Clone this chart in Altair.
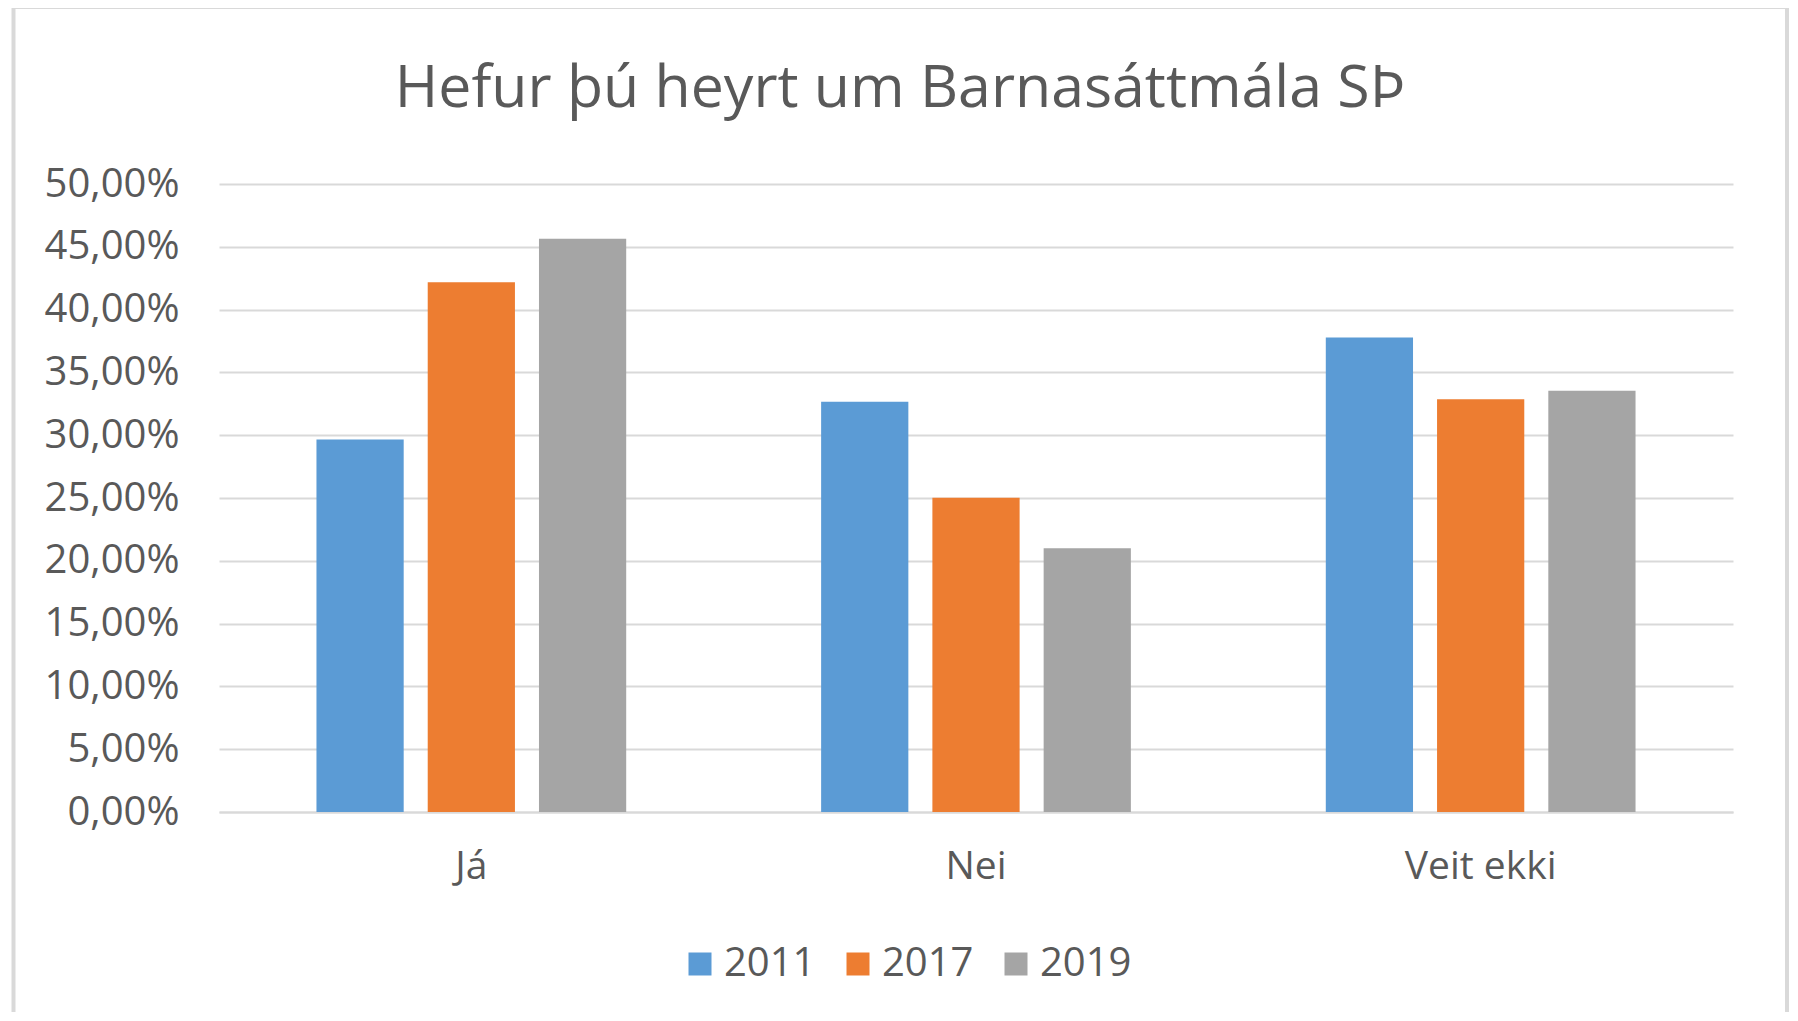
import altair as alt
import pandas as pd

categories = ["Já", "Nei", "Veit ekki"]
years = ["2011", "2017", "2019"]
values_2011 = [0.2965, 0.3266, 0.3778]
values_2017 = [0.4218, 0.2502, 0.3287]
values_2019 = [0.4564, 0.2100, 0.3354]
colors = ["#5B9BD5", "#ED7D31", "#A5A5A5"]
y_ticks = [i * 0.05 for i in range(11)]

rows = []
for yr, vals in zip(years, [values_2011, values_2017, values_2019]):
    for c, v in zip(categories, vals):
        rows.append({"Svar": c, "Ár": yr, "Hlutfall": v})
df = pd.DataFrame(rows)

FONT = "Open Sans"
TXT = "#595959"
W, H = 1514, 628

bars = alt.Chart(df).mark_bar().encode(
    x=alt.X("Svar:N", sort=categories, title=None,
            scale=alt.Scale(paddingInner=0, paddingOuter=0),
            axis=alt.Axis(labelAngle=0, ticks=False, domain=True,
                          domainColor="#D9D9D9", domainWidth=2,
                          labelFontSize=39, labelColor=TXT, labelFont=FONT,
                          labelPadding=35, grid=False)),
    xOffset=alt.XOffset("Ár:N", sort=years,
                        scale=alt.Scale(paddingInner=0.216, paddingOuter=0.876)),
    y=alt.Y("Hlutfall:Q", title=None,
            scale=alt.Scale(domain=[0, 0.5], nice=False),
            axis=alt.Axis(values=y_ticks, domain=False, ticks=False,
                          gridColor="#D9D9D9", gridWidth=2,
                          labelExpr="replace(format(datum.value, '.2%'), '.', ',')",
                          labelFontSize=40, labelColor=TXT, labelFont=FONT,
                          labelPadding=40)),
    color=alt.Color("Ár:N", sort=years,
                    scale=alt.Scale(domain=years, range=colors),
                    legend=alt.Legend(title=None, orient="none", direction="horizontal",
                                      legendX=461, legendY=760,
                                      symbolType="square", symbolSize=529,
                                      symbolStrokeWidth=0, symbolOpacity=1,
                                      labelFontSize=40, labelColor=TXT, labelFont=FONT,
                                      labelOffset=4, columnPadding=22)),
)

frame = alt.Chart(pd.DataFrame({"f": [0]})).mark_rect(
    fill=None, stroke="#D9D9D9", strokeWidth=4
).encode(
    x=alt.value(-205.5), x2=alt.value(1568),
    y=alt.value(-177), y2=alt.value(860),
)

chart = alt.layer(frame, bars).properties(
    width=W, height=H,
    background="white",
    title=alt.TitleParams("Hefur þú heyrt um Barnasáttmála SÞ",
                          fontSize=59, font=FONT, fontWeight="normal",
                          color=TXT, anchor="middle", dx=-76,
                          baseline="alphabetic", offset=-161),
    autosize=alt.AutoSizeParams(type="none"),
    padding={"left": 211, "top": 176, "right": 57, "bottom": 200},
).configure_view(stroke=None)

chart.save("out.html", embed_options={"renderer": "svg", "actions": False})
